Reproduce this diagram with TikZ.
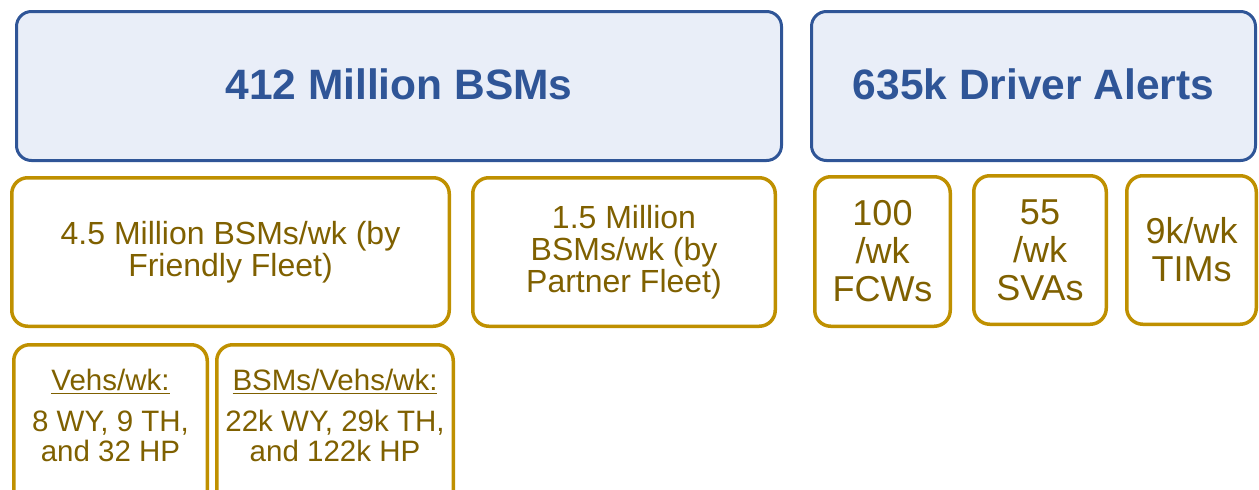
\documentclass[tikz,border=0pt]{standalone}
\usepackage{fontspec}
\setmainfont{Liberation Sans}
\definecolor{bblue}{HTML}{2F5597}
\definecolor{bfill}{HTML}{E9EEF8}
\definecolor{gold}{HTML}{BF9000}
\definecolor{goldtext}{HTML}{7F6000}
\newcommand\myul[1]{\setbox0\hbox{#1}\rlap{\color{goldtext}\rule[-3.5pt]{\wd0}{1.5pt}}\box0}
\begin{document}
\begin{tikzpicture}[x=1pt,y=-1pt,
  topbox/.style={draw=bblue, fill=bfill, line width=3pt, rounded corners=15pt,
    text=bblue, font=\fontsize{42.5}{50}\selectfont\bfseries, inner sep=0pt, text depth=4pt},
  subbox/.style={draw=gold, line width=3.5pt, rounded corners=16pt,
    text=goldtext, align=center, inner sep=0pt},
  midtext/.style={font=\fontsize{32}{32}\selectfont},
  bigtext/.style={font=\fontsize{36}{38}\selectfont},
  smalltext/.style={text=goldtext, align=center, inner sep=0pt,
    font=\fontsize{29.5}{30}\selectfont}
]
\clip (0,0) rectangle (1259,490);
% top row
\node[topbox, minimum width=765pt, minimum height=149pt] (bsm) at (399,86) {412 Million BSMs};
\node[topbox, minimum width=444pt, minimum height=149pt] (alerts) at (1033.5,86) {635k Driver Alerts};
% second row
\node[subbox, midtext, minimum width=437.5pt, minimum height=148.5pt] (friendly) at (230.5,252)
  {4.5 Million BSMs/wk (by\\Friendly Fleet)};
\node[subbox, midtext, minimum width=302.5pt, minimum height=148.5pt] (partner) at (624,252)
  {1.5 Million\\BSMs/wk (by\\Partner Fleet)};
\node[subbox, bigtext, minimum width=135.5pt, minimum height=149.5pt] (fcw) at (882.5,251.5)
  {100\\/wk\\FCWs};
\node[subbox, bigtext, minimum width=132.5pt, minimum height=148.5pt] (sva) at (1040,250)
  {55\\/wk\\SVAs};
\node[subbox, bigtext, minimum width=129.5pt, minimum height=148.5pt] (tim) at (1191.5,250)
  {9k/wk\\TIMs};
% third row
\node[subbox, minimum width=193.5pt, minimum height=170pt] (vehs) at (110.5,429.75) {};
\node[subbox, minimum width=236.5pt, minimum height=170pt] (bsmveh) at (335,429.75) {};
\node[smalltext, anchor=north] (vehstext) at ([yshift=-26pt]vehs.north)
  {\myul{Vehs/wk:}\\[11pt]8 WY, 9 TH,\\and 32 HP};
\node[smalltext, anchor=north] (bsmvehtext) at ([yshift=-26pt]bsmveh.north)
  {\myul{BSMs/Vehs/wk:}\\[11pt]22k WY, 29k TH,\\and 122k HP};
\end{tikzpicture}
\end{document}
